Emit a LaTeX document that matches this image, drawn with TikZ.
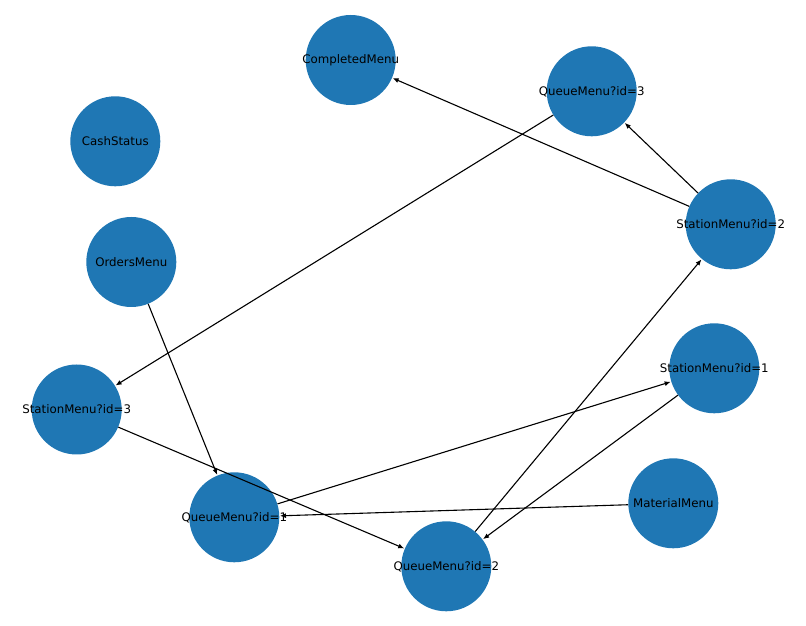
\documentclass[tikz,border=0pt]{standalone}
\usepackage{fontspec}
\setmainfont{DejaVu Sans}
\usetikzlibrary{arrows.meta}
\definecolor{nodeblue}{RGB}{31,119,180}
\begin{document}
\begin{tikzpicture}[x=1pt,y=1pt,
  gnode/.style={circle,fill=nodeblue,draw=none,minimum size=90pt,inner sep=0pt,
    font=\fontsize{11.8}{14}\selectfont,text=black},
  gedge/.style={line width=1.1pt,-{Latex[length=6pt,width=5pt]},shorten >=0.5pt}]
\useasboundingbox (0,0) rectangle (806,626);
\newcommand{\lbl}[1]{\makebox[0pt]{#1}}
\node[gnode] (CM) at (350.7,566) {\lbl{CompletedMenu}};
\node[gnode] (Q3) at (591.7,534.7) {\lbl{QueueMenu?id=3}};
\node[gnode] (CS) at (115.3,484.7) {\lbl{CashStatus}};
\node[gnode] (S2) at (730.7,401.7) {\lbl{StationMenu?id=2}};
\node[gnode] (OM) at (131.3,364) {\lbl{OrdersMenu}};
\node[gnode] (S1) at (714.3,257.7) {\lbl{StationMenu?id=1}};
\node[gnode] (S3) at (76.7,216.5) {\lbl{StationMenu?id=3}};
\node[gnode] (MM) at (673.3,122.7) {\lbl{MaterialMenu}};
\node[gnode] (Q1) at (234.3,108.7) {\lbl{QueueMenu?id=1}};
\node[gnode] (Q2) at (446.3,59.7) {\lbl{QueueMenu?id=2}};
\draw[gedge] (S2) -- (CM);
\draw[gedge] (S2) -- (Q3);
\draw[gedge] (Q3) -- (S3);
\draw[gedge] (OM) -- (Q1);
\draw[gedge] (S3) -- (Q2);
\draw[gedge] (Q1) -- (S1);
\draw[gedge] (S1) -- (Q2);
\draw[gedge] (Q2) -- (S2);
\draw[gedge] (MM) -- (Q1);
\end{tikzpicture}
\end{document}
